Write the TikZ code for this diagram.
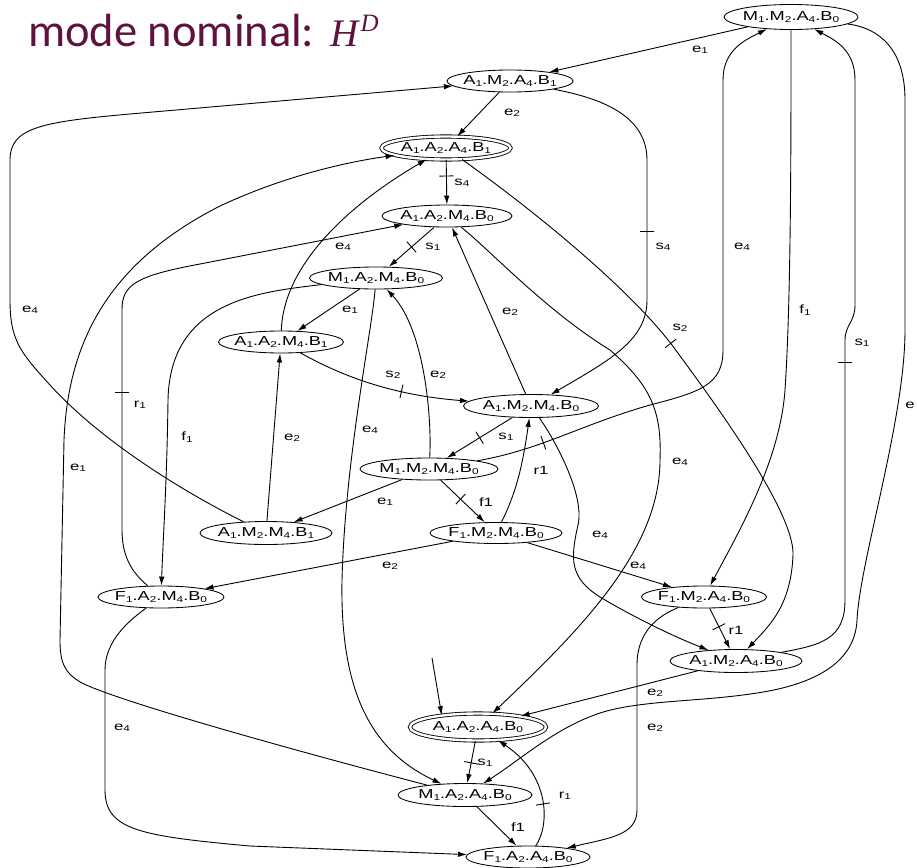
\documentclass[tikz,border=0pt]{standalone}
\usepackage{fontspec}
\usetikzlibrary{arrows.meta,shapes.geometric}
\newfontfamily\graphfont[FakeStretch=1.4]{Liberation Sans}
\newfontfamily\headfont{Carlito}
\newfontfamily\headmath{Liberation Serif}
\definecolor{headcol}{RGB}{94,18,62}
% lowered small index digit
\newcommand\lowidx[1]{\raisebox{-1.5pt}{\fontsize{8.5}{9}\selectfont #1}}
% state name such as A1.M2.A4.B0, boxed with zero width so the ellipse keeps its set size
\newcommand\stname[8]{\makebox[0pt]{#1\lowidx{#2}.#3\lowidx{#4}.#5\lowidx{#6}.#7\lowidx{#8}}}
\newcommand\evt[2]{#1\lowidx{#2}}
\begin{document}
\begin{tikzpicture}[x=1pt,y=-1pt,
  state/.style={ellipse, draw, line width=0.85pt, inner sep=0pt, font=\graphfont\fontsize{13}{15}\selectfont},
  accept/.style={state, double, double distance=2.4pt},
  trans/.style={line width=0.9pt, -{Latex[length=9pt,width=5.5pt]}},
  elabel/.style={inner sep=0pt, font=\graphfont\fontsize{12}{14}\selectfont},
  barmark/.style={sloped, draw, shape=rectangle, line width=0.9pt, minimum width=0pt, minimum height=14pt, inner sep=0pt, outer sep=0pt}]
\useasboundingbox (0,0) rectangle (917,867);

% title
\node[anchor=base west, inner sep=0pt, text=headcol, font=\headfont\fontsize{46.5}{50}\selectfont] (title) at (28,47)
  {mode nominal: \kern2pt{\headmath\itshape\fontsize{39}{42}\selectfont H\kern2pt\raisebox{15pt}{\fontsize{25}{27}\selectfont D}}};

% states
\node[state, minimum width=134pt, minimum height=25pt] (n1) at (791,17) {\stname M1M2A4B0};
\node[state, minimum width=126pt, minimum height=22pt] (n2) at (510,81) {\stname A1M2A4B1};
\node[accept, minimum width=129pt, minimum height=23pt] (n3) at (446,148) {\stname A1A2A4B1};
\node[state, minimum width=130pt, minimum height=22pt] (n4) at (447,216) {\stname A1A2M4B0};
\node[state, minimum width=133pt, minimum height=22pt] (n5) at (376,278) {\stname M1A2M4B0};
\node[state, minimum width=125pt, minimum height=22pt] (n6) at (281,342) {\stname A1A2M4B1};
\node[state, minimum width=135pt, minimum height=23pt] (n7) at (531,406) {\stname A1M2M4B0};
\node[state, minimum width=138pt, minimum height=22pt] (n8) at (429,469) {\stname M1M2M4B0};
\node[state, minimum width=132pt, minimum height=23pt] (n9) at (266,533) {\stname A1M2M4B1};
\node[state, minimum width=132pt, minimum height=21pt] (n10) at (496,533) {\stname F1M2M4B0};
\node[state, minimum width=126pt, minimum height=22pt] (n11) at (161,597) {\stname F1A2M4B0};
\node[state, minimum width=125pt, minimum height=22pt] (n12) at (704,597) {\stname F1M2A4B0};
\node[state, minimum width=132pt, minimum height=23pt] (n13) at (736,661) {\stname A1M2A4B0};
\node[accept, minimum width=136pt, minimum height=27pt] (n14) at (478,727) {\stname A1A2A4B0};
\node[state, minimum width=134pt, minimum height=23pt] (n15) at (465,795) {\stname M1A2A4B0};
\node[state, minimum width=124pt, minimum height=22pt] (n16) at (528,857) {\stname F1A2A4B0};
\coordinate (init) at (432,658);

% transitions
\draw[trans] (n1) -- (n2);
\draw[trans] (n1) .. controls (791,150) and (791,300) .. (785,390) .. controls (780,460) and (740,530) .. (n12);
\draw[trans] (n1) .. controls (880,28) and (905,50) .. (905,100) -- (905,330) .. controls (905,420) and (860,560) .. (857,620) .. controls (855,665) and (810,685) .. (757,693) .. controls (700,702) and (640,700) .. (600,713) .. controls (555,728) and (520,760) .. (n15);
\draw[trans] (n2) -- (n3);
\draw[trans] (n2) .. controls (600,98) and (647,115) .. (647,160) -- (647,300) node[barmark, pos=0.507] (t5) {} .. controls (647,340) and (610,360) .. (n7);
\draw[trans] (n3) -- (n4) node[barmark, pos=0.36] (t6) {};
\draw[trans] (n3) .. controls (540,215) and (630,290) .. (672,345) node[barmark, pos=0.99] (t7) {} .. controls (705,390) and (795,510) .. (793,555) .. controls (791,605) and (770,625) .. (n13);
\draw[trans] (n4) -- (n5) node[barmark, pos=0.5] (t8) {};
\draw[trans] (n4) .. controls (490,250) and (545,310) .. (610,350) .. controls (650,385) and (662,410) .. (660,460) .. controls (660,550) and (580,630) .. (n14);
\draw[trans] (n5) -- (n6);
\draw[trans] (n5) .. controls (260,292) and (170,300) .. (168,400) .. controls (167,480) and (163,540) .. (n11);
\draw[trans] (n5) .. controls (372,330) and (345,460) .. (342,580) .. controls (340,690) and (370,750) .. (n15);
\draw[trans] (n6) .. controls (283,270) and (340,210) .. (n3);
\draw[trans] (n6) .. controls (340,375) and (390,395) .. (n7) node[barmark, pos=0.68] (t14) {};
\draw[trans] (n7) -- (n4);
\draw[trans] (n7) -- (n8) node[barmark, pos=0.5] (t16) {};
\draw[trans] (n7) .. controls (555,440) and (585,495) .. (578,525) .. controls (570,560) and (570,578) .. (600,597) .. controls (630,615) and (670,635) .. (n13);
\draw[trans] (n8) .. controls (432,420) and (425,330) .. (n5);
\draw[trans] (n8) .. controls (540,450) and (580,425) .. (650,405) node[barmark, pos=0.39] (t19) {} .. controls (700,392) and (723,385) .. (723,350) -- (723,80) .. controls (723,50) and (745,40) .. (n1);
\draw[trans] (n8) -- (n9);
\draw[trans] (n8) -- (n10) node[barmark, pos=0.45] (t21) {};
\draw[trans] (n9) .. controls (180,490) and (100,440) .. (50,385) .. controls (20,352) and (10,340) .. (10,300) -- (10,160) .. controls (10,128) and (40,122) .. (130,114) -- (n2);
\draw[trans] (n9) -- (n6);
\draw[trans] (n10) .. controls (515,495) and (522,470) .. (n7);
\draw[trans] (n10) -- (n11);
\draw[trans] (n10) -- (n12);
\draw[trans] (n11) .. controls (135,575) and (122,560) .. (122,530) -- (122,310) node[barmark, pos=0.627] (t27) {} .. controls (122,285) and (135,276) .. (200,264) -- (n4);
\draw[trans] (n11) .. controls (130,620) and (105,640) .. (105,670) -- (105,790) .. controls (105,830) and (140,836) .. (250,846) -- (n16);
\draw[trans] (n12) -- (n13) node[barmark, pos=0.45] (t29) {};
\draw[trans] (n12) .. controls (660,615) and (637,630) .. (637,665) -- (637,810) .. controls (637,835) and (610,838) .. (n16);
\draw[trans] (n13) -- (n14);
\draw[trans] (n13) .. controls (820,645) and (845,640) .. (845,600) -- (845,340) node[barmark, pos=0.915] (t32) {} .. controls (845,325) and (855,322) .. (855,305) -- (855,80) .. controls (855,50) and (835,40) .. (n1);
\draw[trans] (init) -- (n14.162);
\draw[trans] (n14) -- (n15) node[barmark, pos=0.52] (t34) {};
\draw[trans] (n15) -- (n16);
\draw[trans] (n15) .. controls (300,752) and (120,702) .. (82,683) .. controls (64,673) and (60,662) .. (60,640) -- (64,440) .. controls (68,340) and (110,262) .. (220,206) .. controls (280,178) and (340,163) .. (n3);
\draw[trans] (n16) .. controls (550,825) and (550,775) .. (n14) node[barmark, pos=0.45] (t37) {};

% event labels
\node[elabel] (l1) at (700,50) {\evt e1};
\node[elabel] (l2) at (805,310) {\evt f1};
\node[elabel] (l3) at (910,405) {e};
\node[elabel] (l4) at (512,113) {\evt e2};
\node[elabel] (l5) at (663,247) {\evt s4};
\node[elabel] (l6) at (462,183) {\evt s4};
\node[elabel] (l7) at (680,328) {\evt s2};
\node[elabel] (l8) at (433,247) {\evt s1};
\node[elabel] (l9) at (680,462) {\evt e4};
\node[elabel] (l10) at (350,310) {\evt e1};
\node[elabel] (l11) at (187,437) {\evt f1};
\node[elabel] (l12) at (370,430) {\evt e4};
\node[elabel] (l13) at (343,247) {\evt e4};
\node[elabel] (l14) at (393,375) {\evt s2};
\node[elabel] (l15) at (510,312) {\evt e2};
\node[elabel] (l16) at (506,437) {\evt s1};
\node[elabel] (l17) at (600,535) {\evt e4};
\node[elabel] (l18) at (438,375) {\evt e2};
\node[elabel] (l19) at (742,247) {\evt e4};
\node[elabel] (l20) at (385,502) {\evt e1};
\node[elabel] (l21) at (486,502) {f1};
\node[elabel] (l22) at (30,310) {\evt e4};
\node[elabel] (l23) at (292,438) {\evt e2};
\node[elabel] (l24) at (541,470) {r1};
\node[elabel] (l25) at (390,566) {\evt e2};
\node[elabel] (l26) at (638,566) {\evt e4};
\node[elabel] (l27) at (140,405) {\evt r1};
\node[elabel] (l28) at (122,728) {\evt e4};
\node[elabel] (l29) at (736,630) {r1};
\node[elabel] (l30) at (655,728) {\evt e2};
\node[elabel] (l31) at (655,693) {\evt e2};
\node[elabel] (l32) at (862,343) {\evt s1};
\node[elabel] (l34) at (485,763) {\evt s1};
\node[elabel] (l35) at (518,827) {f1};
\node[elabel] (l36) at (78,468) {\evt e1};
\node[elabel] (l37) at (565,796) {\evt r1};
\end{tikzpicture}
\end{document}
